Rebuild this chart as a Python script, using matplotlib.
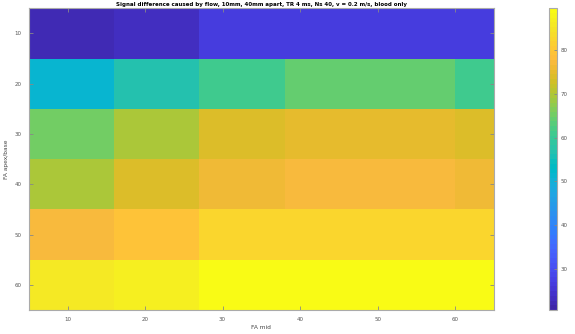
import numpy as np
import matplotlib
matplotlib.use("Agg")
import matplotlib.pyplot as plt
from matplotlib.colors import ListedColormap

# Data
fa_apex = [10, 20, 30, 40, 50, 60]          # rows (y)
fa_mid_edges = [5, 16, 27, 38, 49, 60, 71]  # column grid edges (x)
fa_apex_edges = [5, 15, 25, 35, 45, 55, 65]
signal = [
    [21.8, 23.3, 26.1, 26.6, 26.8, 26.3],
    [51.3, 56.7, 61.1, 63.9, 64.1, 61.1],
    [65.3, 69.9, 73.7, 74.6, 74.6, 73.5],
    [70.0, 73.5, 75.9, 77.0, 77.2, 75.9],
    [77.0, 79.2, 82.3, 82.3, 82.3, 82.2],
    [85.8, 87.4, 89.1, 89.3, 89.3, 89.3],
]
xticks = [10, 20, 30, 40, 50, 60]
yticks = [10, 20, 30, 40, 50, 60]
cbar_ticks = [30, 40, 50, 60, 70, 80]
clim = (20.6, 89.6)
title = "Signal difference caused by flow, 10mm, 40mm apart, TR 4 ms, Ns 40, v = 0.2 m/s, blood only"

parula_data = [
[0.2422,0.1504,0.6603],[0.2504,0.1650,0.7076],[0.2578,0.1818,0.7511],[0.2647,0.1978,0.7952],
[0.2706,0.2147,0.8364],[0.2751,0.2342,0.8710],[0.2783,0.2559,0.8991],[0.2803,0.2782,0.9221],
[0.2813,0.3006,0.9414],[0.2810,0.3228,0.9579],[0.2795,0.3447,0.9717],[0.2760,0.3667,0.9829],
[0.2699,0.3892,0.9906],[0.2602,0.4123,0.9952],[0.2440,0.4358,0.9988],[0.2206,0.4603,0.9973],
[0.1963,0.4847,0.9892],[0.1834,0.5074,0.9798],[0.1786,0.5289,0.9682],[0.1764,0.5499,0.9520],
[0.1687,0.5703,0.9359],[0.1540,0.5902,0.9218],[0.1460,0.6091,0.9079],[0.1380,0.6276,0.8973],
[0.1248,0.6459,0.8883],[0.1113,0.6635,0.8763],[0.0952,0.6798,0.8598],[0.0689,0.6948,0.8394],
[0.0297,0.7082,0.8163],[0.0036,0.7203,0.7917],[0.0067,0.7312,0.7660],[0.0433,0.7411,0.7394],
[0.0964,0.7500,0.7120],[0.1408,0.7584,0.6842],[0.1717,0.7670,0.6554],[0.1938,0.7758,0.6251],
[0.2161,0.7843,0.5923],[0.2470,0.7918,0.5567],[0.2906,0.7973,0.5188],[0.3406,0.8008,0.4789],
[0.3909,0.8029,0.4354],[0.4456,0.8024,0.3909],[0.5044,0.7993,0.3480],[0.5616,0.7942,0.3045],
[0.6174,0.7876,0.2612],[0.6720,0.7793,0.2227],[0.7242,0.7698,0.1910],[0.7738,0.7598,0.1646],
[0.8203,0.7498,0.1535],[0.8634,0.7406,0.1596],[0.9035,0.7330,0.1774],[0.9393,0.7288,0.2100],
[0.9728,0.7298,0.2394],[0.9956,0.7434,0.2371],[0.9970,0.7659,0.2199],[0.9952,0.7893,0.2028],
[0.9892,0.8136,0.1885],[0.9786,0.8386,0.1766],[0.9676,0.8639,0.1643],[0.9610,0.8890,0.1537],
[0.9597,0.9135,0.1423],[0.9628,0.9373,0.1265],[0.9691,0.9606,0.1064],[0.9769,0.9839,0.0805]]
parula = ListedColormap(parula_data, name="parula")

plt.rcParams['font.family'] = ['DejaVu Sans']
fig = plt.figure(figsize=(5.75, 3.34), dpi=100)
ax = fig.add_axes([0.050, 0.072, 0.809, 0.903])
cax = fig.add_axes([0.954, 0.072, 0.014, 0.903])

mesh = ax.pcolormesh(fa_mid_edges, fa_apex_edges, np.array(signal), cmap=parula,
                     vmin=clim[0], vmax=clim[1], shading='flat')
ax.set_xlim(5, 65)
ax.set_ylim(65, 5)
ax.set_xticks(xticks)
ax.set_yticks(yticks)
ax.tick_params(direction='in', length=3, width=0.6, colors='#888888', labelcolor='#555555',
               labelsize=4, top=True, right=True, pad=5)
for s in ax.spines.values():
    s.set_color('#aaaaaa')
    s.set_linewidth(0.8)
ax.set_xlabel("FA mid", fontsize=4.2, color='#444444', labelpad=2)
ax.set_ylabel("FA apex/base", fontsize=4.2, color='#444444', labelpad=4)
ax.set_title(title, fontsize=4.0, fontweight='bold', color='black', pad=2)

cb = fig.colorbar(mesh, cax=cax, ticks=cbar_ticks)
cb.ax.tick_params(direction='in', length=2, width=0.6, colors='#888888', labelcolor='#555555',
                  labelsize=4, pad=3)
cb.outline.set_edgecolor('#aaaaaa')
cb.outline.set_linewidth(0.8)

fig.savefig("out.png", dpi=100)
